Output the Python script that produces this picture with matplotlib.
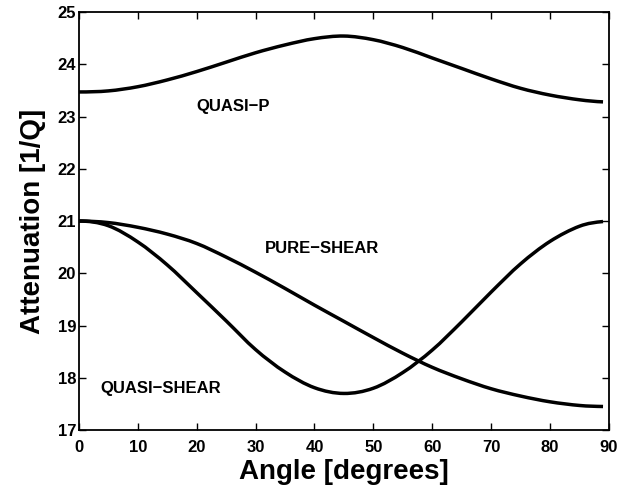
import numpy as np
import matplotlib
matplotlib.use("Agg")
import matplotlib.pyplot as plt
from matplotlib.path import Path
from matplotlib.patches import PathPatch

# values, every 5 degrees (last point at 89)
angle = [0, 5, 10, 15, 20, 25, 30, 35, 40, 45, 50, 55, 60, 65, 70, 75, 80, 85, 89]

quasi_p = [23.47, 23.49, 23.57, 23.70, 23.86, 24.04, 24.22, 24.37, 24.49, 24.54,
           24.47, 24.32, 24.12, 23.92, 23.72, 23.54, 23.41, 23.32, 23.28]

quasi_shear = [21.00, 20.91, 20.60, 20.16, 19.63, 19.09, 18.54, 18.11, 17.81, 17.70,
               17.80, 18.10, 18.53, 19.07, 19.64, 20.18, 20.61, 20.90, 20.99]

pure_shear = [21.00, 20.97, 20.88, 20.75, 20.57, 20.31, 20.02, 19.71, 19.39, 19.08,
              18.77, 18.47, 18.20, 17.98, 17.79, 17.65, 17.54, 17.47, 17.45]


def smooth_path(x, y):
    # cubic bezier through the read points (catmull-rom tangents)
    x = np.asarray(x, float)
    y = np.asarray(y, float)
    n = len(x)
    tx = np.gradient(x)
    ty = np.zeros(n)
    for i in range(1, n):
        if i == n - 1:
            ty[i] = (y[i] - y[i - 1]) / (x[i] - x[i - 1]) * tx[i] * 0.5
        else:
            ty[i] = (y[i + 1] - y[i - 1]) / (x[i + 1] - x[i - 1]) * tx[i]
    verts = [(x[0], y[0])]
    codes = [Path.MOVETO]
    for i in range(n - 1):
        verts += [(x[i] + tx[i] / 3, y[i] + ty[i] / 3),
                  (x[i + 1] - tx[i + 1] / 3, y[i + 1] - ty[i + 1] / 3),
                  (x[i + 1], y[i + 1])]
        codes += [Path.CURVE4] * 3
    return Path(verts, codes)


plt.rcParams['font.family'] = ['Liberation Sans', 'DejaVu Sans']
plt.rcParams['font.weight'] = 'bold'

fig = plt.figure(figsize=(6.31, 4.90), dpi=100)
ax = fig.add_axes([0.125, 0.1224, 0.840, 0.8531])

for series in (quasi_p, quasi_shear, pure_shear):
    ax.add_patch(PathPatch(smooth_path(angle, series), facecolor='none',
                           edgecolor='black', linewidth=2.5, capstyle='butt'))

ax.set_xlim(0, 90)
ax.set_ylim(17, 25)
ax.set_xticks(np.arange(0, 91, 10))
ax.set_yticks(np.arange(17, 26, 1))

ax.tick_params(direction='in', top=True, right=True, length=5, width=1,
               labelsize=12)
ax.tick_params(axis='x', pad=7)
ax.tick_params(axis='y', pad=2)
for lab in ax.get_xticklabels() + ax.get_yticklabels():
    lab.set_fontweight('bold')
for sp in ax.spines.values():
    sp.set_linewidth(1.3)

ax.set_xlabel("Angle [degrees]", fontsize=20, fontweight='bold', labelpad=3)
ax.set_ylabel("Attenuation [1/Q]", fontsize=20, fontweight='bold', labelpad=8)

ax.text(20.0, 23.2, "QUASI\u2212P", fontsize=12, fontweight='bold', va='center', ha='left')
ax.text(31.6, 20.48, "PURE\u2212SHEAR", fontsize=12, fontweight='bold', va='center', ha='left')
ax.text(3.6, 17.8, "QUASI\u2212SHEAR", fontsize=12, fontweight='bold', va='center', ha='left')

fig.savefig("out.png", dpi=100)
plt.close(fig)
